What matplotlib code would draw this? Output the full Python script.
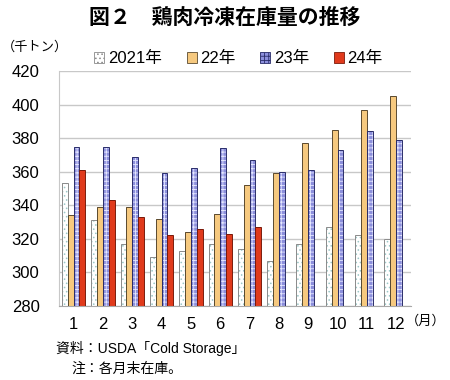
"""Chart: frozen chicken stocks by month, 2021-24 (USDA Cold Storage)."""

import matplotlib

matplotlib.use("Agg")

import matplotlib.pyplot as plt
import numpy as np
from matplotlib.patches import Patch

plt.rcParams["font.family"] = ["Liberation Sans", "Noto Sans CJK JP", "DejaVu Sans"]
plt.rcParams["hatch.linewidth"] = 0.6

months = ["1", "2", "3", "4", "5", "6", "7", "8", "9", "10", "11", "12"]
series_names = ["2021年", "22年", "23年", "24年"]
y2021 = [353, 331, 317, 309, 313, 317, 314, 307, 317, 327, 322, 320]
y2022 = [334, 339, 339, 332, 324, 335, 352, 359, 377, 385, 397, 405]
y2023 = [375, 375, 369, 359, 362, 374, 367, 360, 361, 373, 384, 379]
y2024 = [361, 343, 333, 322, 326, 323, 327, np.nan, np.nan, np.nan, np.nan, np.nan]
yticks = [280, 300, 320, 340, 360, 380, 400, 420]

# (face, hatch, hatch colour, outline)
styles = [
    ("#ffffff", "....", "#9cc8c8", "#8a8a8a"),
    ("#f6c97f", None, None, "#5a4a30"),
    ("#8c8fdc", "++++", "#e6e8ff", "#2a2d6a"),
    ("#e03a1c", None, None, "#7a1a0a"),
]
JP = ["Noto Sans CJK JP", "DejaVu Sans"]

fig = plt.figure(figsize=(4.5, 3.8), dpi=100)
ax = fig.add_axes([0.131, 0.195, 0.782, 0.618])

x = np.arange(len(months))
w = 0.2
data = [y2021, y2022, y2023, y2024]
for i, (vals, (face, hatch, hcol, edge)) in enumerate(zip(data, styles)):
    pos = x + (i - 1.5) * w
    heights = np.array(vals, dtype=float) - yticks[0]
    if hatch:
        ax.bar(pos, heights, w, bottom=yticks[0], color=face, hatch=hatch,
               edgecolor=hcol, lw=0, zorder=2)
    else:
        ax.bar(pos, heights, w, bottom=yticks[0], color=face, lw=0, zorder=2)
    ax.bar(pos, heights, w, bottom=yticks[0], fill=False, edgecolor=edge,
           lw=0.7, zorder=3)

ax.set_ylim(280, 420)
ax.set_xlim(-0.5, len(months) - 0.5)
ax.set_yticks(yticks)
ax.set_xticks(x)
ax.set_xticklabels(months)
ax.tick_params(length=0, labelsize=12, pad=8)
ax.tick_params(axis="y", pad=14)
ax.yaxis.grid(True, color="#c8c8c8", lw=1)
ax.set_axisbelow(True)
for s in ["top", "right"]:
    ax.spines[s].set_visible(False)
ax.spines["left"].set_color("#c8c8c8")
ax.spines["bottom"].set_color("#a8a8a8")

handles = [Patch(facecolor=face, edgecolor=edge, lw=0.6, hatch=hatch)
           for face, hatch, hcol, edge in styles]
fig.legend(handles, series_names, loc="center", ncol=4,
           bbox_to_anchor=(0.53, 0.845), frameon=False, fontsize=12,
           handlelength=0.6, handleheight=0.6, handletextpad=0.2,
           columnspacing=1.5)

fig.text(0.5, 0.955, "図２　鶏肉冷凍在庫量の推移", ha="center", va="center",
         fontsize=15, fontweight="bold", family=JP)
fig.text(0.005, 0.877, "（千トン）", ha="left", va="center", fontsize=9.5,
         family=JP)
fig.text(0.99, 0.155, "（月）", ha="right", va="center", fontsize=9.5,
         family=JP)
fig.text(0.124, 0.082, "資料：USDA「Cold Storage」", ha="left", va="center",
         fontsize=10)
fig.text(0.158, 0.03, "注：各月末在庫。", ha="left", va="center", fontsize=10,
         family=JP)

fig.savefig("out.png", dpi=100)
